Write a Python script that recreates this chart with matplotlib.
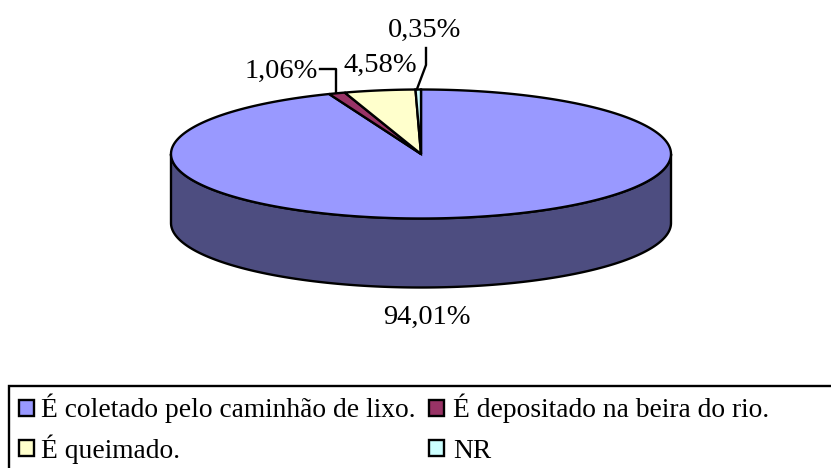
import numpy as np
import matplotlib
matplotlib.use("Agg")
import matplotlib.pyplot as plt
from matplotlib.patches import Polygon, Rectangle

labels = ["É coletado pelo caminhão de lixo.", "É depositado na beira do rio.", "É queimado.", "NR"]
values = [94.01, 1.06, 4.58, 0.35]
value_text = ["94,01%", "1,06%", "4,58%", "0,35%"]
colors = ["#9999FF", "#993366", "#FFFFCC", "#CCFFFF"]
side_color = "#4D4D80"

plt.rcParams['font.family'] = ['Liberation Serif', 'DejaVu Serif']

# pie geometry, in picture pixels
cx, cy = 421, 154
rx, ry = 250, 64.5
depth = 69
lw = 1.7


def rim(t):
    # t is clockwise from the top, in radians
    return cx + rx * np.sin(t), cy - ry * np.cos(t)


fig = plt.figure(figsize=(8.31, 4.68), dpi=100)
ax = fig.add_axes([0, 0, 1, 1])
ax.set_xlim(0, 831)
ax.set_ylim(468, 0)
ax.axis("off")

# side of the cylinder, only the front half shows
t = np.linspace(np.pi / 2, 3 * np.pi / 2, 200)
x, y = rim(t)
side = np.column_stack([np.r_[x, x[::-1]], np.r_[y, y[::-1] + depth]])
ax.add_patch(Polygon(side, closed=True, fc=side_color, ec="black", lw=lw, joinstyle="round"))

# top slices
start = 0
for val, col in zip(values, colors):
    stop = start + val / sum(values) * 2 * np.pi
    t = np.linspace(start, stop, max(int(val * 5), 3))
    x, y = rim(t)
    pts = np.column_stack([np.r_[cx, x], np.r_[cy, y]])
    ax.add_patch(Polygon(pts, closed=True, fc=col, ec="black", lw=lw, joinstyle="miter"))
    start = stop

# value labels
fs = 20.5
ax.text(426.5, 317.5, value_text[0], fontsize=fs, ha="center", va="center", color="black")
ax.text(281, 71, value_text[1], fontsize=fs, ha="center", va="center", color="black")
ax.text(380, 65, value_text[2], fontsize=fs, ha="center", va="center", color="black")
ax.text(425, 30, value_text[3], fontsize=fs, ha="center", va="center", color="black")

# leader lines
ax.plot([320, 336, 336], [69, 69, 92], color="black", lw=lw)
ax.plot([426, 426, 417], [48, 65, 89], color="black", lw=lw)

# legend box runs off the picture on the right and bottom
ax.add_patch(Rectangle((9, 386), 840, 100, fc="white", ec="black", lw=lw))
swatch_x = [19, 429, 19, 429]
swatch_y = [400, 400, 440, 440]
text_x = [41, 453, 41, 453]
text_y = [417, 417, 458, 458]
for i in range(4):
    ax.add_patch(Rectangle((swatch_x[i], swatch_y[i]), 15, 16, fc=colors[i], ec="black", lw=lw))
    ax.text(text_x[i], text_y[i], labels[i], fontsize=19.8, ha="left", va="baseline", color="black")

fig.savefig("out.png", dpi=100)
